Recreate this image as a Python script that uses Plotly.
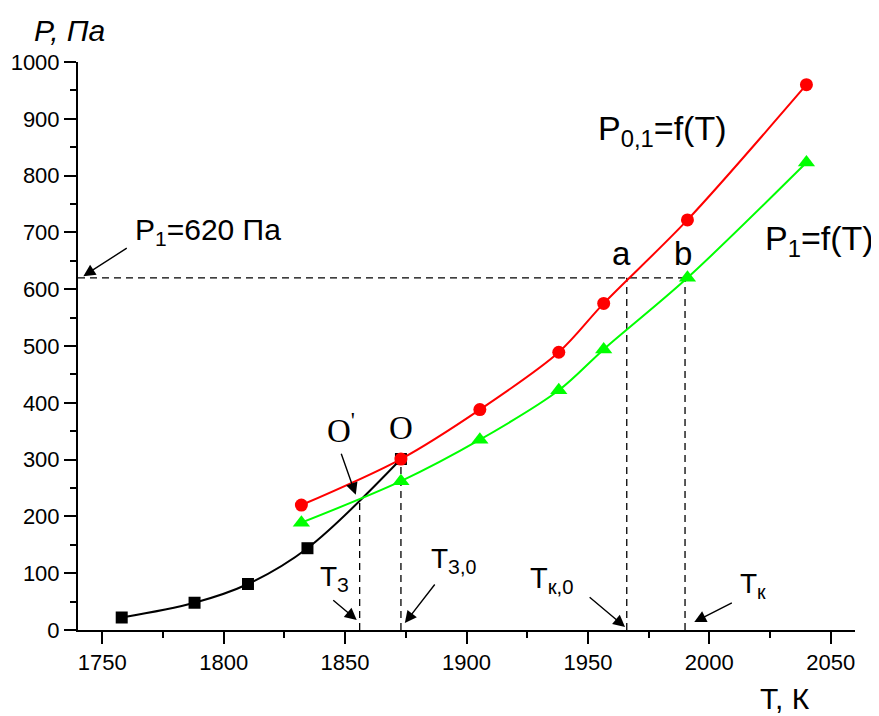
import plotly.graph_objects as go

# ---- data ----
T_black = [1758, 1788, 1810, 1834.5, 1873]
P_black = [22, 48, 81, 144, 301]

T_red = [1832, 1873, 1905.5, 1938, 1956.5, 1991, 2040]
P_red = [220, 301, 388, 489, 575, 722, 960]

T_green = [1832, 1873, 1905.5, 1938, 1956.5, 1991, 2040]
P_green = [189, 262, 335, 422, 494, 620, 823]

P1_level = 620
T_a = 1966      # intersection with red curve at P1
T_b = 1990      # intersection with green curve at P1
T_O1 = 1856     # O' point
P_O1 = 229
T_O = 1873      # O point
P_O = 301

x_ticks = [1750, 1800, 1850, 1900, 1950, 2000, 2050]
y_ticks = [0, 100, 200, 300, 400, 500, 600, 700, 800, 900, 1000]

FONT = "Liberation Sans, Arial, sans-serif"
SERIF = "Liberation Serif, Times New Roman, serif"

fig = go.Figure()

dash = "7px,5px"
dl = dict(color="black", width=1.3, dash=dash)
fig.add_trace(go.Scatter(x=[1740, T_b], y=[P1_level, P1_level], mode="lines", line=dl, hoverinfo="skip"))
fig.add_trace(go.Scatter(x=[T_a, T_a], y=[0, P1_level], mode="lines", line=dl, hoverinfo="skip"))
fig.add_trace(go.Scatter(x=[T_b, T_b], y=[0, P1_level], mode="lines", line=dl, hoverinfo="skip"))
fig.add_trace(go.Scatter(x=[T_O1, T_O1], y=[0, P_O1], mode="lines", line=dl, hoverinfo="skip"))
fig.add_trace(go.Scatter(x=[T_O, T_O], y=[0, P_O], mode="lines", line=dl, hoverinfo="skip"))

fig.add_trace(go.Scatter(x=T_black, y=P_black, mode="lines+markers",
                         line=dict(color="black", width=2, shape="spline", smoothing=1),
                         marker=dict(symbol="square", size=12, color="black")))
fig.add_trace(go.Scatter(x=T_green, y=P_green, mode="lines+markers",
                         line=dict(color="#00FF00", width=2, shape="spline", smoothing=0.9),
                         marker=dict(symbol="triangle-up", size=15, color="#00FF00")))
fig.add_trace(go.Scatter(x=T_red, y=P_red, mode="lines+markers",
                         line=dict(color="#FF0000", width=2, shape="spline", smoothing=0.9),
                         marker=dict(symbol="circle", size=13, color="#FF0000")))

ann = []
def text(x, y, s, size, font=FONT, xanchor="left", yanchor="middle", xref="x", yref="y"):
    ann.append(dict(x=x, y=y, text=s, showarrow=False, xref=xref, yref=yref,
                    xanchor=xanchor, yanchor=yanchor,
                    font=dict(family=font, size=size, color="black")))

def arrow(xh, yh, xt, yt):
    ann.append(dict(x=xh, y=yh, ax=xt, ay=yt, xref="x", yref="y", axref="x", ayref="y",
                    text="", showarrow=True, arrowhead=2, arrowsize=1.7, arrowwidth=1.4,
                    arrowcolor="black", standoff=0, startstandoff=0))

text(1762.8, 702, "P<sub>1</sub>=620 Па", 30)
arrow(1742.2, 623, 1760.7, 674)
text(1953.4, 880, "P<sub>0,1</sub>=f(T)", 34)
text(2022, 686, "P<sub>1</sub>=f(T)", 34)
text(T_a - 2, 662, "a", 33, xanchor="center")
text(T_b - 1, 662, "b", 33, xanchor="center")
text(T_O, 356, "O", 33, font=SERIF, xanchor="center")
text(1841.6, 356, "O<sup>'</sup>", 33, font=SERIF)
arrow(1854.4, 238, 1848.2, 313)
text(1838.7, 90, "T<sub>З</sub>", 28)
arrow(1854.8, 17.6, 1844.5, 54.6)
text(1884.5, 123, "T<sub>З,0</sub>", 28)
arrow(1874.6, 12.3, 1887.4, 82.7)
text(1925.3, 88, "T<sub>к,0</sub>", 29)
arrow(1965.3, 5.3, 1950.1, 60)
text(2012, 79, "T<sub>к</sub>", 28)
arrow(1993.8, 14, 2009.9, 49.3)

text(-0.059, 1.0546, "<i>P, Па</i>", 30, xref="paper", yref="paper")
text(0.875, -0.12, "T, К", 30, xref="paper", yref="paper")

fig.update_layout(
    width=871, height=708,
    margin=dict(l=70, r=24, t=54, b=86, autoexpand=False),
    paper_bgcolor="white", plot_bgcolor="white",
    showlegend=False,
    annotations=ann,
    font=dict(family=FONT, size=22, color="black"),
    xaxis=dict(range=[1740, 2060], tickvals=x_ticks, ticks="outside", ticklen=12, tickwidth=2,
               tickcolor="black", showline=True, linecolor="black", linewidth=2, automargin=False,
               showgrid=False, zeroline=False, tickfont=dict(size=22),
               minor=dict(dtick=25, tick0=1750, ticks="outside", ticklen=6, tickwidth=2, tickcolor="black")),
    yaxis=dict(range=[0, 1000], tickvals=y_ticks, ticks="outside", ticklen=12, tickwidth=2,
               tickcolor="black", showline=True, linecolor="black", linewidth=2, automargin=False,
               showgrid=False, zeroline=False, tickfont=dict(size=22),
               minor=dict(dtick=50, tick0=0, ticks="outside", ticklen=6, tickwidth=2, tickcolor="black")),
)

fig.write_html("out.html")
